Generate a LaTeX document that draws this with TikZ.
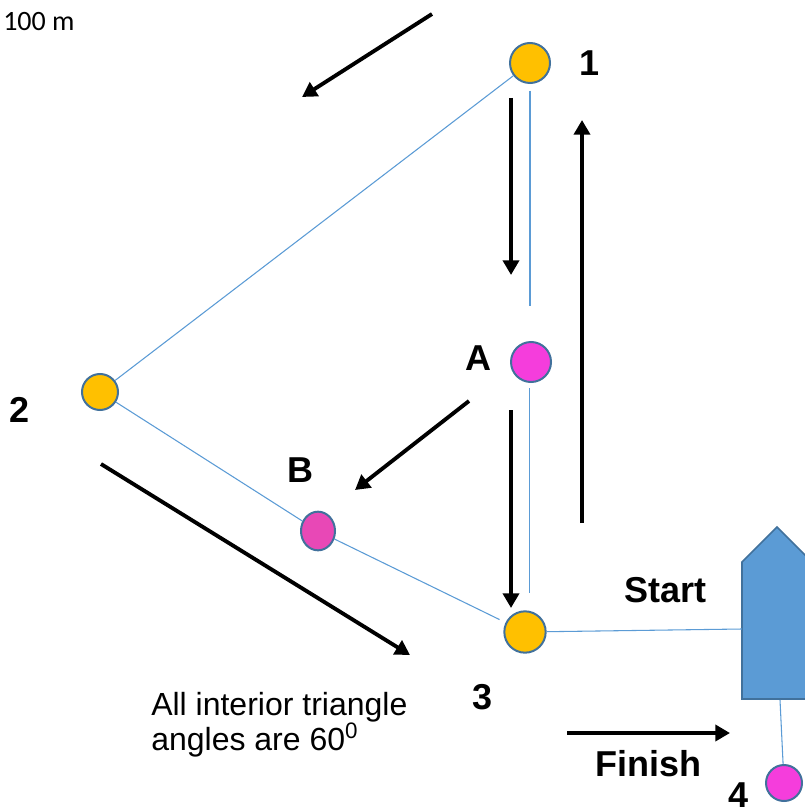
\documentclass[tikz,border=0pt]{standalone}
\usepackage{fontspec}
\setmainfont{Liberation Sans}
\newfontfamily\scalefont{Carlito}
\usetikzlibrary{arrows.meta,shapes.geometric,positioning}
\definecolor{myorange}{RGB}{255,192,0}
\definecolor{mymagenta}{RGB}{245,61,220}
\definecolor{mypink}{RGB}{232,72,182}
\definecolor{myblue}{RGB}{91,155,213}
\definecolor{myedge}{RGB}{65,113,156}

\begin{document}
\begin{tikzpicture}[
  x=0.75pt, y=-0.75pt,
  buoy/.style={
    circle,
    draw=myedge,
    line width=1.5pt,
    minimum size=#1,
    inner sep=0pt
    },
  tag/.style={font=\fontsize{27}{32}\selectfont\bfseries, inner sep=0pt},
  leg/.style={myblue, line width=0.8pt},
  course/.style={line width=2.9pt, -{Triangle[length=11pt,width=12pt]}}
]
\useasboundingbox (0,0) rectangle (805,809);

% committee boat
\draw[fill=myblue, draw=myedge, line width=1.2pt]
  (742,562) -- (777,527) -- (812,562) -- (812,699) -- (742,699) -- cycle;
\coordinate (boatW) at (742,629);
\coordinate (boatS) at (780,700);

% marks
\node[buoy=30pt, fill=myorange] (mark1) at (530,63) {};
\node[buoy=27pt, fill=myorange] (mark2) at (100,392) {};
\node[buoy=31pt, fill=myorange] (mark3) at (525,632) {};
\node[buoy=30pt, fill=mymagenta] (markA) at (531,362) {};
\node[buoy=27pt, fill=mypink, ellipse, minimum width=25.5pt, minimum height=29pt] (markB) at (318,531) {};
\node[buoy=27pt, fill=mymagenta] (mark4) at (784,783) {};

% legs of the course
\draw[leg] (mark1) -- (mark2);
\draw[leg] (mark2) -- (markB);
\draw[leg, shorten >=5pt] (markB) -- (mark3);
\draw[leg, shorten <=5pt, shorten >=26pt] (mark1.south) -- (mark1.south |- markA.north);
\draw[leg, shorten <=4pt, shorten >=13pt] ([xshift=-1pt]markA.south) -- ([xshift=-1pt]markA.south |- mark3.north);
\draw[leg] (mark3) -- (boatW);
\draw[leg] (boatS) -- (mark4);

% sailing directions
\draw[course] (432,14) -- (302,97);
\draw[course] (511,98) -- (511,275);
\draw[course] (582,523) -- (582,120);
\draw[course] (469,401) -- (355,490);
\draw[course] (511,410) -- (511,608);
\draw[course] (101,464) -- (410,655);
\draw[course] (567,733) -- (730,733);

% labels
\node[tag] (tag1) at (590,63) {1};
\node[tag] (tag2) at (20,410) {2};
\node[tag] (tag3) at (483,697) {3};
\node[tag] (tag4) at (738,795) {4};
\node[tag] (tagA) at (478,358) {A};
\node[tag] (tagB) at (300,470) {B};
\node[tag] (start) at (665,590) {Start};
\node[tag] (finish) at (648,764) {Finish};

\node[font=\scalefont\fontsize{21}{24}\selectfont, anchor=west, inner sep=0pt] (scale) at (3,22) {100 m};
\node[anchor=north west, align=left, font=\fontsize{24}{26.5}\selectfont, inner sep=0pt] (note) at (151,692)
  {All interior triangle\\angles are 60\textsuperscript{0}};
\end{tikzpicture}
\end{document}
